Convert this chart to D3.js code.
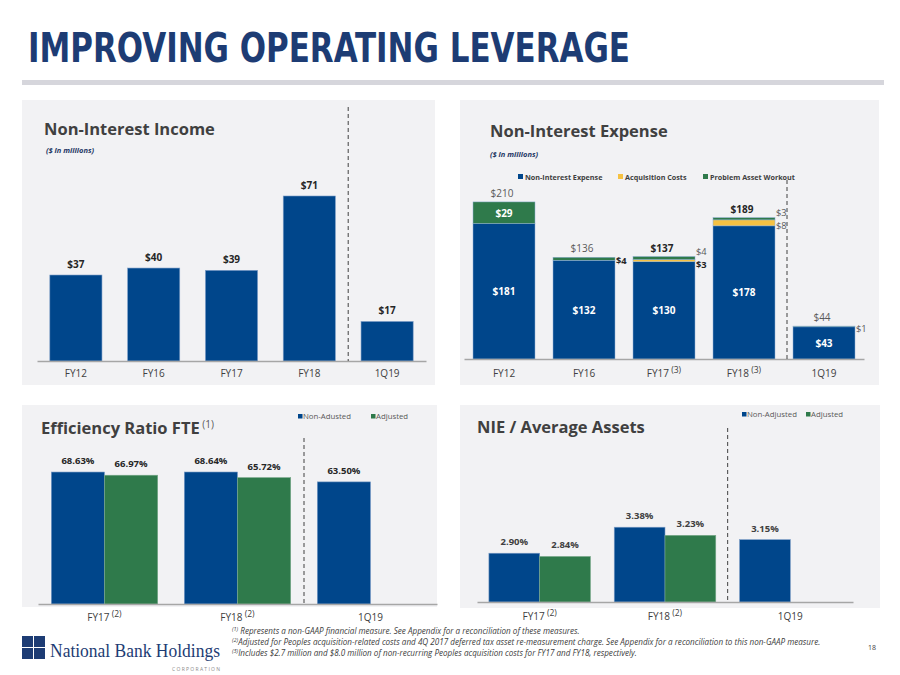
<!DOCTYPE html>
<html><head><meta charset="utf-8">
<script src="https://cdn.jsdelivr.net/npm/d3@7"></script>
<style>body{margin:0;background:#fff}svg{display:block}text{font-family:"Open Sans",sans-serif}</style>
</head><body>
<script>
// ---------- DATA ----------
const incomeCats = ["FY12", "FY16", "FY17", "FY18", "1Q19"];
const incomeVals = [37, 40, 39, 71, 17];

const expenseCats = ["FY12", "FY16", "FY17", "FY18", "1Q19"];
const expenseNotes = ["", "", "(3)", "(3)", ""];
const expenseCore = [181, 132, 130, 178, 43];
const expenseAcq = [0, 0, 3, 8, 0];
const expenseProblem = [29, 4, 4, 3, 1];
const expenseTotals = [210, 136, 137, 189, 44];
const expenseSeries = ["Non-Interest Expense", "Acquisition Costs", "Problem Asset Workout"];

const ratioCats = ["FY17", "FY18", "1Q19"];
const ratioNotes = ["(2)", "(2)", ""];
const effNonAdj = [68.63, 68.64, 63.50];
const effAdj = [66.97, 65.72, null];
const nieNonAdj = [2.90, 3.38, 3.15];
const nieAdj = [2.84, 3.23, null];
const effLegend = ["Non-Adusted", "Adjusted"];
const nieLegend = ["Non-Adjusted", "Adjusted"];

const footnotes = [
  ["(1)", " Represents a non-GAAP financial measure.  See Appendix for a reconciliation of these measures."],
  ["(2)", "Adjusted for Peoples acquisition-related costs and 4Q 2017 deferred tax asset re-measurement charge. See Appendix for a reconciliation to this non-GAAP measure."],
  ["(3)", "Includes $2.7 million and $8.0 million of non-recurring Peoples acquisition costs for FY17 and FY18, respectively."]
];

// ---------- STYLE ----------
const BLUE = "#00468b", GREEN = "#2f7a4b", YELLOW = "#f6c243", NAVY = "#1d3c74";
const PANEL = "#f2f2f4", AXIS = "#a6a6a6", DARK = "#262626", GRAY = "#404040";

const svg = d3.select("body").append("svg").attr("width", 900).attr("height", 675);

// header
svg.append("text").attr("x", 28).attr("y", 62)
  .style("font-family", "'Liberation Sans Narrow', 'DejaVu Sans Condensed', sans-serif")
  .attr("font-weight", "bold").attr("font-size", 40).attr("fill", NAVY)
  .attr("textLength", 602).attr("lengthAdjust", "spacingAndGlyphs")
  .text("IMPROVING OPERATING LEVERAGE");
svg.append("rect").attr("x", 22).attr("y", 80).attr("width", 862).attr("height", 5).attr("fill", "#d6d6dc");

// panels
[[22, 100, 413, 285], [460, 100, 419, 285], [22, 405, 415, 202], [460, 405, 420, 203]]
  .forEach(p => svg.append("rect").attr("x", p[0]).attr("y", p[1]).attr("width", p[2]).attr("height", p[3]).attr("fill", PANEL));

function title(x, y, t, sup) {
  const el = svg.append("text").attr("x", x).attr("y", y).attr("font-weight", "bold")
    .attr("font-size", 16.5).attr("fill", GRAY).text(t);
  if (sup) el.append("tspan").attr("font-weight", "normal").attr("font-size", 10).attr("fill", "#595959")
    .attr("dy", -6).text(" " + sup);
}
function subtitle(x, y) {
  svg.append("text").attr("x", x).attr("y", y).attr("font-weight", "bold").attr("font-style", "italic")
    .attr("font-size", 7.5).attr("fill", "#1f3864").text("($ in millions)");
}
function axis(scale, y, pad, notes) {
  const g = svg.append("g").attr("transform", `translate(0,${y})`)
    .call(d3.axisBottom(scale).tickSize(0).tickPadding(pad));
  g.select(".domain").attr("stroke", AXIS).attr("stroke-width", 1.5);
  g.selectAll(".tick text").attr("font-size", 10).attr("fill", GRAY)
    .style("font-family", "'Open Sans',sans-serif")
    .each(function (d, i) {
      if (notes && notes[i]) d3.select(this).append("tspan").attr("font-size", 8.5).attr("dy", "-0.45em").text(" " + notes[i]);
    });
  return g;
}
function dashed(x, y1, y2) {
  svg.append("line").attr("x1", x).attr("x2", x).attr("y1", y1).attr("y2", y2)
    .attr("stroke", GRAY).attr("stroke-width", 1).attr("stroke-dasharray", "4,3");
}

// ---------- CHART 1: Non-Interest Income ----------
{
  title(44, 135, "Non-Interest Income");
  subtitle(46, 153);
  const x = d3.scaleBand().domain(incomeCats).range([37, 426]).paddingInner(0.33).paddingOuter(0.165);
  const y = d3.scaleLinear().domain([0, 80]).range([361, 361 - 80 * 2.324]);
  svg.append("g").selectAll("rect").data(incomeVals).join("rect")
    .attr("x", (d, i) => x(incomeCats[i])).attr("width", x.bandwidth())
    .attr("y", d => y(d)).attr("height", d => y(0) - y(d))
    .attr("fill", BLUE).attr("stroke", "#7b9cc6").attr("stroke-width", 0.6);
  svg.append("g").selectAll("text").data(incomeVals).join("text")
    .attr("x", (d, i) => x(incomeCats[i]) + x.bandwidth() / 2).attr("y", d => y(d) - 7)
    .attr("text-anchor", "middle").attr("font-weight", "bold").attr("font-size", 10).attr("fill", DARK)
    .text(d => "$" + d);
  axis(x, 361, 9);
  dashed((x("FY18") + x.bandwidth() + x("1Q19")) / 2, 107, 361);
}

// ---------- CHART 2: Non-Interest Expense ----------
{
  title(490, 137, "Non-Interest Expense");
  subtitle(490, 157);
  const x = d3.scaleBand().domain(expenseCats).range([464, 864]).paddingInner(0.225).paddingOuter(0.1125);
  const y = d3.scaleLinear().domain([0, 220]).range([359, 359 - 220 * 0.748]);
  const colors = [BLUE, YELLOW, GREEN];
  const rows = expenseCats.map((c, i) => ({ cat: c, core: expenseCore[i], acq: expenseAcq[i], prob: expenseProblem[i], total: expenseTotals[i] }));
  const stack = d3.stack().keys(["core", "acq", "prob"])(rows);
  stack.forEach((layer, li) => {
    svg.append("g").selectAll("rect").data(layer).join("rect")
      .attr("x", d => x(d.data.cat)).attr("width", x.bandwidth())
      .attr("y", d => y(d[1])).attr("height", d => y(d[0]) - y(d[1]))
      .attr("fill", colors[li]).attr("stroke", d => d[1] > d[0] ? "#8fb0d6" : "none").attr("stroke-width", 0.5);
  });
  // legend
  const lg = [[518, 0], [618, 1], [703, 2]];
  lg.forEach(([lx, k]) => {
    svg.append("rect").attr("x", lx).attr("y", 174).attr("width", 5).attr("height", 5).attr("fill", colors[k]);
    svg.append("text").attr("x", lx + 7).attr("y", 179.5).attr("font-weight", "bold").attr("font-size", 7.2)
      .attr("fill", GRAY).text(expenseSeries[k]);
  });
  // inside core labels
  svg.append("g").selectAll("text").data(rows).join("text")
    .attr("x", d => x(d.cat) + x.bandwidth() / 2).attr("y", d => (y(0) + y(d.core)) / 2 + 4)
    .attr("text-anchor", "middle").attr("font-weight", "bold").attr("font-size", 10).attr("fill", "#fff")
    .text(d => "$" + d.core);
  // totals
  const boldTotals = new Set(["FY17", "FY18"]);
  svg.append("g").selectAll("text").data(rows).join("text")
    .attr("x", d => x(d.cat) + x.bandwidth() / 2 - 2).attr("y", d => y(d.total) - 5)
    .attr("text-anchor", "middle").attr("font-size", 10)
    .attr("font-weight", d => boldTotals.has(d.cat) ? "bold" : "normal")
    .attr("fill", d => boldTotals.has(d.cat) ? DARK : "#595959")
    .text(d => "$" + d.total);
  // problem/acq labels
  const boldSide = new Set(["FY16-prob", "FY17-acq"]);
  rows.forEach(d => {
    const bx = x(d.cat) + x.bandwidth();
    const cx = x(d.cat) + x.bandwidth() / 2;
    if (d.prob > 15) {
      svg.append("text").attr("x", cx).attr("y", (y(d.core + d.acq) + y(d.total)) / 2 + 4)
        .attr("text-anchor", "middle").attr("font-weight", "bold").attr("font-size", 10).attr("fill", "#fff")
        .text("$" + d.prob);
      return;
    }
    const both = d.acq > 0;
    const pm = (y(d.core + d.acq) + y(d.total)) / 2;
    const labels = [["prob", d.prob, both ? pm - 6 : pm + 2]];
    if (both) labels.push(["acq", d.acq, Math.max((y(d.core) + y(d.core + d.acq)) / 2 + 3, pm + 6.5)]);
    labels.forEach(([k, v, ly]) => {
      const b = boldSide.has(d.cat + "-" + k);
      svg.append("text").attr("x", bx + 1).attr("y", ly + 3.3).attr("font-size", 9.3)
        .attr("font-weight", b ? "bold" : "normal").attr("fill", b ? DARK : "#595959").text("$" + v);
    });
  });
  axis(x, 359, 11, expenseNotes);
  dashed((x("FY18") + x.bandwidth() + x("1Q19")) / 2 + 3, 180, 359);
}

// ---------- grouped charts ----------
function grouped(opts) {
  title(opts.tx, opts.ty, opts.title, opts.sup);
  const x0 = d3.scaleBand().domain(ratioCats).range(opts.range).paddingInner(opts.pad).paddingOuter(opts.pad / 2);
  const x1 = d3.scaleBand().domain([0, 1]).range([0, x0.bandwidth()]);
  const y = d3.scaleLinear().domain(opts.domain).range([opts.base, opts.base - (opts.domain[1] - opts.domain[0]) * opts.ppu]);
  const series = [opts.non, opts.adj];
  const cols = [BLUE, GREEN];
  series.forEach((vals, si) => {
    const data = vals.map((v, i) => ({ cat: ratioCats[i], v })).filter(d => d.v != null);
    svg.append("g").selectAll("rect").data(data).join("rect")
      .attr("x", d => x0(d.cat) + x1(si)).attr("width", x1.bandwidth())
      .attr("y", d => y(d.v)).attr("height", d => opts.base - y(d.v))
      .attr("fill", cols[si]).attr("stroke", si === 0 ? "#7b9cc6" : "#79a98a").attr("stroke-width", 0.6);
    svg.append("g").selectAll("text").data(data).join("text")
      .attr("x", d => x0(d.cat) + x1(si) + x1.bandwidth() / 2).attr("y", d => y(d.v) - opts.lo[si])
      .attr("text-anchor", "middle").attr("font-weight", "bold").attr("font-size", 9.5).attr("fill", opts.lc)
      .text(d => d.v.toFixed(2) + "%");
  });
  // legend
  opts.legend.forEach((t, i) => {
    const lx = opts.lx[i];
    svg.append("rect").attr("x", lx).attr("y", opts.ly - 5).attr("width", 4.5).attr("height", 4.5).attr("fill", cols[i]);
    svg.append("text").attr("x", lx + 5).attr("y", opts.ly).attr("font-size", 7.8).attr("fill", "#595959").text(t);
  });
  axis(x0, opts.base, opts.tp, ratioNotes);
  dashed((x0("FY18") + x0.bandwidth() + x0("1Q19")) / 2, opts.dashTop, opts.base);
}

grouped({
  title: "Efficiency Ratio FTE", sup: "(1)", tx: 41, ty: 434,
  range: [38, 437], pad: 0.2, domain: [0, 80], ppu: 1.923, base: 604,
  non: effNonAdj, adj: effAdj, lo: [8, 8], lc: DARK,
  legend: effLegend, lx: [298, 371], ly: 419, tp: 10, dashTop: 438
});
grouped({
  title: "NIE / Average Assets", tx: 477, ty: 433,
  range: [477, 853], pad: 0.19, domain: [2.0, 3.6], ppu: 54.2, base: 602,
  non: nieNonAdj, adj: nieAdj, lo: [8, 8], lc: GRAY,
  legend: nieLegend, lx: [742, 806], ly: 417, tp: 11, dashTop: 428
});

// ---------- footer ----------
{
  const g = svg.append("g");
  [[22, 636], [34, 636], [22, 648], [34, 648]].forEach(([sx, sy]) =>
    g.append("rect").attr("x", sx).attr("y", sy).attr("width", 11).attr("height", 11).attr("fill", NAVY));
  g.append("text").attr("x", 50).attr("y", 657).style("font-family", "'Liberation Serif',serif")
    .attr("font-size", 18).attr("fill", NAVY).attr("textLength", 170).attr("lengthAdjust", "spacingAndGlyphs")
    .text("National Bank Holdings");
  g.append("text").attr("x", 172).attr("y", 671).attr("font-size", 5).attr("letter-spacing", 1.3)
    .attr("fill", "#8a8a8a").text("CORPORATION");
  footnotes.forEach((f, i) => {
    const t = svg.append("text").attr("x", 232).attr("y", 634 + i * 11.2).attr("font-size", 8.1)
      .attr("font-style", "italic").attr("fill", GRAY);
    t.append("tspan").attr("font-size", 5.5).attr("dy", -3).text(f[0]);
    t.append("tspan").attr("dy", 3).text(f[1]);
  });
  svg.append("text").attr("x", 868).attr("y", 650).attr("font-size", 7).attr("fill", GRAY).text("18");
}
</script>
</body></html>
